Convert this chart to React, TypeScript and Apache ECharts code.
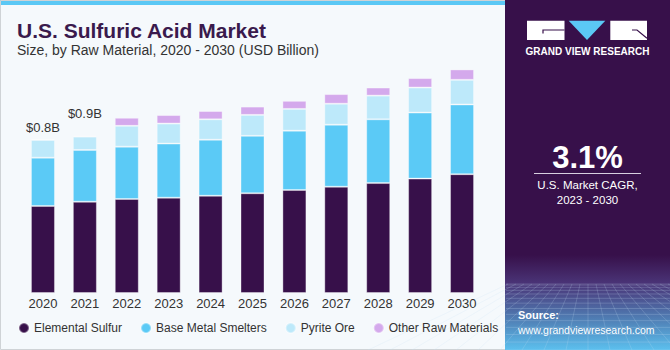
import React, { useEffect, useRef } from "react";
import * as echarts from "echarts";

const years = ["2020", "2021", "2022", "2023", "2024", "2025", "2026", "2027", "2028", "2029", "2030"];
const elementalSulfur = [0.452, 0.474, 0.488, 0.495, 0.505, 0.518, 0.535, 0.552, 0.571, 0.594, 0.617];
const baseMetalSmelters = [0.251, 0.269, 0.272, 0.281, 0.291, 0.298, 0.308, 0.322, 0.331, 0.343, 0.362];
const pyriteOre = [0.092, 0.069, 0.108, 0.104, 0.106, 0.109, 0.113, 0.109, 0.123, 0.13, 0.128];
const otherRawMaterials = [0.005, 0.005, 0.042, 0.044, 0.043, 0.043, 0.042, 0.05, 0.042, 0.049, 0.054];
const totalLabels = ["$0.8B", "$0.9B"];

const FONT = "'Liberation Sans', Arial, sans-serif";
const PANEL = "#37104a";

export default function App() {
  const ref = useRef<HTMLDivElement>(null);
  useEffect(() => {
    if (!ref.current) return;
    const chart = echarts.init(ref.current, undefined, { renderer: "svg" });

    const gridLines: any[] = [];
    // decorative perspective grid in the bottom of the side panel
    for (let i = 0; i < 14; i++) {
      const y = 284 + Math.pow(i / 13, 1.6) * 66;
      gridLines.push({
        type: "line",
        shape: { x1: 506, y1: y, x2: 670, y2: y },
        style: { stroke: "rgba(200,225,245,0.28)", lineWidth: 0.8 },
        silent: true,
      });
    }
    for (let i = -10; i <= 22; i++) {
      const xt = 588 + i * 8;
      const xb = 588 + i * 22;
      gridLines.push({
        type: "line",
        shape: { x1: xt, y1: 284, x2: xb, y2: 350 },
        style: { stroke: "rgba(200,225,245,0.25)", lineWidth: 0.8 },
        silent: true,
      });
    }

    const barCommon = {
      type: "bar" as const,
      stack: "total",
      barWidth: 24,
      itemStyle: { borderColor: "rgba(255,255,255,0.35)", borderWidth: 1 },
      emphasis: { disabled: true },
    };

    chart.setOption({
      animation: false,
      backgroundColor: "#f5f9fc",
      textStyle: { fontFamily: FONT },
      grid: { left: 22, right: 187, top: 60, bottom: 57 },
      xAxis: {
        type: "category",
        data: years,
        axisLine: { show: false },
        axisTick: { show: false },
        axisLabel: { color: "#333", fontSize: 13, margin: 4, fontFamily: FONT },
      },
      yAxis: { type: "value", min: 0, max: 1.21, show: false, splitLine: { show: false } },
      legend: {
        left: 13,
        top: 317,
        icon: "circle",
        itemWidth: 10,
        itemHeight: 10,
        itemGap: 18,
        textStyle: { color: "#333", fontSize: 12, fontFamily: FONT },
        data: ["Elemental Sulfur", "Base Metal Smelters", "Pyrite Ore", "Other Raw Materials"],
      },
      series: [
        { ...barCommon, name: "Elemental Sulfur", data: elementalSulfur, itemStyle: { ...barCommon.itemStyle, color: "#37104a" } },
        { ...barCommon, name: "Base Metal Smelters", data: baseMetalSmelters, itemStyle: { ...barCommon.itemStyle, color: "#5bcaf6" } },
        { ...barCommon, name: "Pyrite Ore", data: pyriteOre, itemStyle: { ...barCommon.itemStyle, color: "#bde9fa" } },
        {
          ...barCommon,
          name: "Other Raw Materials",
          itemStyle: { ...barCommon.itemStyle, color: "#d4a9ec" },
          data: otherRawMaterials.map((v, i) =>
            i < totalLabels.length
              ? {
                  value: v,
                  label: {
                    show: true,
                    position: "top",
                    distance: i === 0 ? 5 : 16,
                    formatter: totalLabels[i],
                    color: "#333",
                    fontSize: 13,
                    fontFamily: FONT,
                  },
                }
              : v
          ),
        },
      ],
      graphic: [
        { type: "rect", shape: { x: 0, y: 0, width: 506, height: 5 }, style: { fill: "#5bc8f5" }, silent: true },
        { type: "rect", shape: { x: 0.5, y: 0.5, width: 669, height: 349 }, style: { fill: "none", stroke: "#cfd3d6", lineWidth: 1 }, silent: true },
        { type: "rect", shape: { x: 505, y: 0, width: 165, height: 350 }, style: { fill: PANEL }, silent: true },
        {
          type: "rect",
          shape: { x: 505, y: 255, width: 165, height: 95 },
          style: {
            fill: new echarts.graphic.LinearGradient(0, 0, 0, 1, [
              { offset: 0, color: "rgba(55,16,74,1)" },
              { offset: 0.3, color: "#4a3477" },
              { offset: 0.65, color: "#4f79b0" },
              { offset: 1, color: "#5cc0ee" },
            ]),
          },
          silent: true,
        },
        ...gridLines,
        // logo
        { type: "rect", shape: { x: 527, y: 20.7, width: 37.5, height: 19.3 }, style: { fill: "#ffffff" }, silent: true },
        { type: "polyline", shape: { points: [[564.5, 30], [543, 30], [543, 33.5]] }, style: { stroke: PANEL, lineWidth: 1.2, fill: "none" }, silent: true },
        { type: "polygon", shape: { points: [[568.7, 20.7], [605.3, 20.7], [587, 40]] }, style: { fill: "#5bc8f5" }, silent: true },
        { type: "rect", shape: { x: 610.3, y: 20.7, width: 36.7, height: 19.3 }, style: { fill: "#ffffff" }, silent: true },
        { type: "polyline", shape: { points: [[632, 30], [637, 30], [647, 38.3]] }, style: { stroke: PANEL, lineWidth: 1.2, fill: "none" }, silent: true },
        {
          type: "text",
          x: 587.5,
          y: 51.5,
          style: { text: "GRAND VIEW RESEARCH", fill: "#ffffff", font: `bold 10px ${FONT}`, textAlign: "center", textVerticalAlign: "middle" },
          silent: true,
        },
        // title
        {
          type: "text",
          x: 17,
          y: 30,
          style: { text: "U.S. Sulfuric Acid Market", fill: "#3a1a4d", font: `bold 21px ${FONT}`, textAlign: "left", textVerticalAlign: "middle" },
          silent: true,
        },
        {
          type: "text",
          x: 17,
          y: 50,
          style: { text: "Size, by Raw Material, 2020 - 2030 (USD Billion)", fill: "#333333", font: `14px ${FONT}`, textAlign: "left", textVerticalAlign: "middle" },
          silent: true,
        },
        // CAGR
        {
          type: "text",
          x: 587.5,
          y: 157,
          style: { text: "3.1%", fill: "#ffffff", font: `bold 31px ${FONT}`, textAlign: "center", textVerticalAlign: "middle" },
          silent: true,
        },
        { type: "line", shape: { x1: 534, y1: 173.5, x2: 641, y2: 173.5 }, style: { stroke: "#d8cfe0", lineWidth: 1.2 }, silent: true },
        {
          type: "text",
          x: 587.5,
          y: 185,
          style: { text: "U.S. Market CAGR,", fill: "#ffffff", font: `11.5px ${FONT}`, textAlign: "center", textVerticalAlign: "middle" },
          silent: true,
        },
        {
          type: "text",
          x: 587.5,
          y: 200,
          style: { text: "2023 - 2030", fill: "#ffffff", font: `11.5px ${FONT}`, textAlign: "center", textVerticalAlign: "middle" },
          silent: true,
        },
        // source
        {
          type: "text",
          x: 518,
          y: 315,
          style: { text: "Source:", fill: "#ffffff", font: `bold 11px ${FONT}`, textAlign: "left", textVerticalAlign: "middle" },
          silent: true,
        },
        {
          type: "text",
          x: 518,
          y: 330,
          style: { text: "www.grandviewresearch.com", fill: "#ffffff", font: `10.5px ${FONT}`, textAlign: "left", textVerticalAlign: "middle" },
          silent: true,
        },
      ],
    });
    return () => chart.dispose();
  }, []);

  return <div ref={ref} style={{ position: "fixed", left: 0, top: 0, width: 670, height: 350 }} />;
}
